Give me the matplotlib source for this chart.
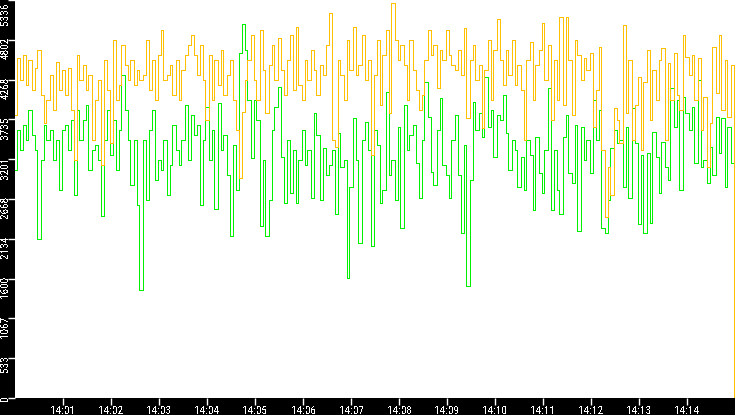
import matplotlib
matplotlib.use("Agg")
import matplotlib.pyplot as plt
import matplotlib.dates as mdates
from matplotlib.transforms import ScaledTranslation
import pandas as pd
from matplotlib import font_manager

# ---- data ----
start_time = "2024-01-01 14:00:00"
end_time = "2024-01-01 14:15:00"
sample_step = "3750ms"

orange_values = [
    3790, 4556, 4261, 4597, 4194, 4530, 4126, 4422, 4664, 4059,
    3683, 3992, 4328, 3858, 4503, 4126, 4395, 4059, 4422, 3858,
    3186, 4597, 4261, 4462, 4126, 4328, 3454, 3992, 4261, 3118,
    4530, 4126, 3414, 4798, 3992, 4194, 4731, 4462, 4261, 4530,
    4194, 4395, 4261, 4328, 4798, 4126, 4530, 3992, 4597, 4933,
    4261, 4328, 4462, 4059, 4530, 3992, 4395, 4597, 4731, 4866,
    4597, 4328, 4731, 4261, 3723, 4597, 3992, 4530, 4194, 4664,
    4059, 4328, 4530, 3992, 3589, 2944, 3831, 4261, 4530, 4866,
    4261, 3992, 4933, 4395, 3817, 4462, 4731, 4261, 4825, 4395,
    4059, 4530, 4866, 4126, 4973, 4194, 3992, 4530, 4261, 4664,
    4395, 4059, 4462, 4328, 4731, 5161, 3454, 3360, 4530, 4328,
    3992, 4798, 4395, 4973, 4328, 4462, 4866, 4261, 4530, 3253,
    4328, 4798, 3925, 4597, 4933, 3817, 5296, 4798, 4530, 4731,
    4462, 3992, 4798, 4395, 4126, 3858, 4059, 4530, 4933, 4597,
    4731, 4153, 4664, 4530, 4933, 4597, 4462, 4395, 4664, 4328,
    4960, 3750, 4530, 4731, 4261, 4462, 3616, 4395, 4798, 3992,
    4664, 5081, 4530, 4194, 4664, 4328, 4798, 4194, 4462, 4126,
    3454, 4530, 4772, 3992, 4462, 4664, 5027, 4261, 4731, 3723,
    4530, 3992, 5108, 3925, 5108, 4530, 3790, 4798, 4597, 4261,
    4556, 4395, 4624, 3629, 4126, 4704, 3320, 2420, 3092, 2715,
    3884, 3723, 3414, 5000, 3817, 4530, 3454, 3925, 4301, 3320,
    4234, 4664, 3723, 4395, 3992, 4530, 4691, 3454, 4489, 3992,
    4624, 4059, 3858, 4866, 4570, 4328, 4597, 3992, 4556, 3589,
    4032, 3092, 3683, 4704, 4086, 4866, 3858, 4530, 3764, 4462,
    0,
]

green_values = [
    3051, 3589, 3320, 3656, 3454, 3858, 3522, 3320, 2137, 3186,
    3656, 3454, 3589, 3186, 3454, 2782, 3589, 3656, 3320, 3723,
    2715, 3858, 3454, 3723, 3925, 3051, 3320, 3387, 3186, 2446,
    3454, 3858, 3253, 3723, 3051, 3589, 4328, 3858, 3454, 2850,
    3454, 2581, 1452, 3454, 2648, 3589, 3858, 2917, 3186, 3051,
    3454, 2715, 3118, 3656, 3320, 3118, 3454, 3925, 3186, 3790,
    3522, 3656, 2581, 3454, 3898, 3186, 3589, 2540, 3952, 3320,
    3522, 2984, 2178, 3387, 2782, 4624, 5013, 4664, 3992, 3212,
    3992, 3723, 2312, 3186, 2178, 2648, 3589, 3898, 4167, 3226,
    2608, 3454, 2742, 3320, 2621, 3186, 3589, 3118, 3320, 2688,
    3817, 3522, 2648, 3347, 2984, 3118, 3320, 2473, 3548, 3092,
    3186, 1613, 2823, 3750, 3186, 2084, 3454, 3696, 3320, 2043,
    3589, 3387, 2621, 2782, 4100, 2984, 3186, 2648, 3629, 2285,
    3925, 3320, 3522, 3656, 3145, 2688, 3454, 4234, 3764, 3024,
    2850, 3589, 4019, 3118, 2984, 2675, 3454, 3790, 2984, 2218,
    3387, 1506, 2917, 3965, 3589, 3817, 3495, 4301, 3629, 3858,
    3226, 3790, 3723, 4059, 3548, 3051, 3454, 3320, 2823, 3226,
    2782, 3454, 3253, 2514, 3495, 3011, 2742, 3320, 4153, 2514,
    3320, 2782, 2473, 3495, 3790, 3011, 2876, 3656, 2245, 3629,
    3186, 3454, 3011, 3992, 3454, 3858, 2285, 2218, 2648, 3347,
    3589, 3414, 3454, 2823, 3629, 2675, 3884, 3414, 2339, 3253,
    2218, 3280, 2352, 3562, 3226, 2742, 3428, 3092, 2917, 4153,
    3629, 3992, 2782, 4032, 3817, 3589, 3898, 3145, 4261, 3092,
    3186, 2876, 3360, 2984, 3764, 3280, 3750, 2823, 3629, 3145,
    1855,
]

y_max = 5336
y_tick_labels = ["0", "533", "1067", "1600", "2134", "2668", "3201",
                 "3735", "4268", "4802", "5336"]
x_tick_start = "2024-01-01 14:01:00"
x_tick_end = "2024-01-01 14:14:00"

# ---- font choice (narrow sans) ----
names = {f.name for f in font_manager.fontManager.ttflist}
candidates = ["Liberation Sans Narrow", "Arial Narrow", "Roboto Condensed",
              "Archivo Narrow", "PT Sans Narrow", "Open Sans Condensed",
              "Fira Sans Condensed", "IBM Plex Sans Condensed", "Asap Condensed",
              "Encode Sans Condensed", "Barlow Semi Condensed", "Sofia Sans Condensed",
              "Pragati Narrow"]
label_font = next((c for c in candidates if c in names), "DejaVu Sans")
plt.rcParams["font.family"] = [label_font, "DejaVu Sans"]
plt.rcParams["text.antialiased"] = False

times = pd.date_range(start_time, periods=len(orange_values), freq=sample_step)

fig = plt.figure(figsize=(7.35, 4.15), dpi=100, facecolor="black")

# size the label font so that "14:01" is about 24 px wide
probe = fig.text(0, 0, "14:01", fontsize=10)
renderer = fig.canvas.get_renderer()
w10 = probe.get_window_extent(renderer).width
probe.remove()
label_size = 10 * 24.5 / w10

ax = fig.add_axes([15 / 735, 17 / 415, 720 / 735, 398 / 415])
ax.set_facecolor("white")

ax.plot(times, green_values, color="#00F000", lw=0.7, antialiased=False,
        drawstyle="steps-mid", zorder=2)
ax.plot(times, orange_values, color="#FFC000", lw=0.7, antialiased=False,
        drawstyle="steps-mid", zorder=3)

ax.set_xlim(pd.Timestamp(start_time), pd.Timestamp(end_time))
ax.set_ylim(0, y_max)

for s in ax.spines.values():
    s.set_visible(False)

yt = [y_max * i / (len(y_tick_labels) - 1) for i in range(len(y_tick_labels))]
ax.set_yticks(yt)
ax.set_yticklabels(y_tick_labels, rotation=90, va="top", ha="right")
ax.tick_params(axis="y", colors="white", length=5, width=1, pad=-1.5, labelsize=label_size)

xt = pd.date_range(x_tick_start, x_tick_end, freq="1min")
ax.set_xticks(xt)
ax.xaxis.set_major_formatter(mdates.DateFormatter("%H:%M"))
ax.tick_params(axis="x", colors="white", length=5, width=1, pad=0.5, labelsize=label_size)

for i, lab in enumerate(ax.get_yticklabels()):
    dy = 3 if i < len(y_tick_labels) - 1 else -3
    lab.set_transform(lab.get_transform() + ScaledTranslation(0, dy / 100, fig.dpi_scale_trans))

fig.savefig("out.png", dpi=100, facecolor="black")
